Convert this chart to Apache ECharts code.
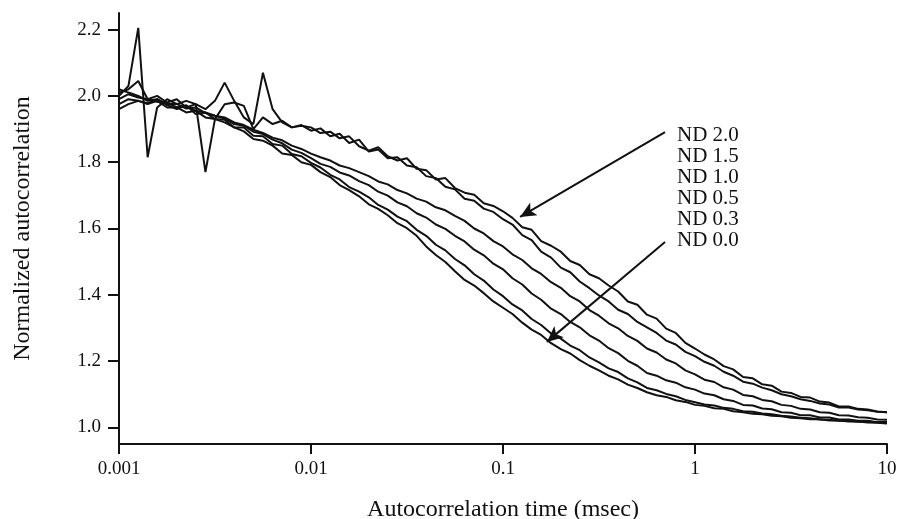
<!DOCTYPE html>
<html>
<head>
<meta charset="utf-8">
<script src="https://cdn.jsdelivr.net/npm/echarts@6/dist/echarts.min.js"></script>
<style>
  html, body { margin: 0; padding: 0; background: #fff; }
  #chart { width: 901px; height: 519px; }
</style>
</head>
<body>
<div id="chart"></div>
<script>
// Autocorrelation time (msec)
const times = [
  0.001, 0.00112, 0.00126, 0.00141, 0.00158, 0.00178, 0.002, 0.00224, 0.00251, 0.00282,
  0.00316, 0.00355, 0.00398, 0.00447, 0.00501, 0.00562, 0.00631, 0.00708, 0.00794, 0.00891,
  0.01, 0.0112, 0.0126, 0.0141, 0.0158, 0.0178, 0.02, 0.0224, 0.0251, 0.0282,
  0.0316, 0.0355, 0.0398, 0.0447, 0.0501, 0.0562, 0.0631, 0.0708, 0.0794, 0.0891,
  0.1, 0.112, 0.126, 0.141, 0.158, 0.178, 0.2, 0.224, 0.251, 0.282,
  0.316, 0.355, 0.398, 0.447, 0.501, 0.562, 0.631, 0.708, 0.794, 0.891,
  1, 1.12, 1.26, 1.41, 1.58, 1.78, 2, 2.24, 2.51, 2.82,
  3.16, 3.55, 3.98, 4.47, 5.01, 5.62, 6.31, 7.08, 7.94, 8.91, 10
];

const nd20 = [
  2.000, 2.030, 2.205, 1.815, 1.965, 1.990, 1.975, 1.985, 1.975, 1.770,
  1.930, 1.975, 1.980, 1.970, 1.900, 1.935, 1.915, 1.925, 1.905, 1.910,
  1.905, 1.888, 1.892, 1.872, 1.878, 1.848, 1.835, 1.845, 1.818, 1.805,
  1.812, 1.780, 1.776, 1.748, 1.752, 1.722, 1.708, 1.702, 1.676, 1.668,
  1.652, 1.632, 1.604, 1.596, 1.562, 1.548, 1.530, 1.502, 1.490, 1.462,
  1.450, 1.428, 1.410, 1.380, 1.370, 1.340, 1.328, 1.298, 1.285, 1.255,
  1.238, 1.220, 1.205, 1.185, 1.175, 1.152, 1.148, 1.130, 1.126, 1.108,
  1.104, 1.092, 1.090, 1.078, 1.075, 1.063, 1.063, 1.056, 1.054, 1.048, 1.046
];
const nd15 = [
  2.010, 2.020, 2.045, 1.990, 2.000, 1.980, 1.990, 1.965, 1.975, 1.960,
  1.985, 2.040, 1.985, 1.935, 1.915, 2.070, 1.960, 1.920, 1.905, 1.912,
  1.895, 1.902, 1.878, 1.886, 1.858, 1.868, 1.832, 1.838, 1.812, 1.815,
  1.790, 1.785, 1.758, 1.752, 1.726, 1.718, 1.690, 1.684, 1.660, 1.650,
  1.628, 1.612, 1.580, 1.565, 1.530, 1.512, 1.482, 1.468, 1.440, 1.420,
  1.398, 1.380, 1.355, 1.342, 1.318, 1.302, 1.285, 1.262, 1.250, 1.228,
  1.215, 1.198, 1.186, 1.168, 1.156, 1.138, 1.132, 1.120, 1.112, 1.100,
  1.094, 1.085, 1.080, 1.072, 1.069, 1.060, 1.060, 1.054, 1.052, 1.047, 1.046
];
const nd10 = [
  2.020, 2.010, 2.000, 1.985, 1.990, 1.975, 1.976, 1.962, 1.965, 1.948,
  1.940, 1.935, 1.920, 1.912, 1.898, 1.888, 1.874, 1.866, 1.850, 1.840,
  1.826, 1.815, 1.805, 1.790, 1.782, 1.770, 1.758, 1.742, 1.733, 1.716,
  1.706, 1.690, 1.681, 1.664, 1.655, 1.638, 1.623, 1.600, 1.585, 1.562,
  1.546, 1.522, 1.505, 1.480, 1.463, 1.438, 1.421, 1.396, 1.380, 1.354,
  1.337, 1.314, 1.299, 1.276, 1.261, 1.238, 1.226, 1.205, 1.193, 1.172,
  1.160, 1.144, 1.137, 1.121, 1.114, 1.098, 1.094, 1.083, 1.079, 1.068,
  1.065, 1.056, 1.054, 1.046, 1.044, 1.037, 1.036, 1.031, 1.029, 1.024, 1.023
];
const nd05 = [
  1.990, 2.005, 1.995, 1.990, 1.982, 1.978, 1.966, 1.970, 1.955, 1.950,
  1.940, 1.932, 1.915, 1.910, 1.892, 1.885, 1.868, 1.857, 1.838, 1.828,
  1.812, 1.795, 1.786, 1.769, 1.760, 1.743, 1.731, 1.711, 1.699, 1.679,
  1.667, 1.646, 1.633, 1.612, 1.599, 1.578, 1.561, 1.536, 1.519, 1.494,
  1.477, 1.450, 1.431, 1.404, 1.385, 1.358, 1.342, 1.318, 1.302, 1.278,
  1.262, 1.239, 1.224, 1.201, 1.186, 1.164, 1.156, 1.142, 1.135, 1.121,
  1.114, 1.102, 1.097, 1.085, 1.080, 1.068, 1.066, 1.057, 1.055, 1.046,
  1.044, 1.037, 1.037, 1.030, 1.030, 1.024, 1.024, 1.020, 1.020, 1.016, 1.016
];
const nd03 = [
  1.960, 1.975, 1.985, 1.978, 1.990, 1.972, 1.960, 1.972, 1.945, 1.950,
  1.930, 1.928, 1.905, 1.905, 1.880, 1.878, 1.855, 1.850, 1.825, 1.818,
  1.798, 1.784, 1.762, 1.748, 1.725, 1.711, 1.694, 1.671, 1.657, 1.636,
  1.622, 1.596, 1.578, 1.551, 1.534, 1.508, 1.489, 1.462, 1.443, 1.416,
  1.396, 1.371, 1.353, 1.327, 1.309, 1.283, 1.268, 1.247, 1.233, 1.211,
  1.196, 1.178, 1.167, 1.148, 1.136, 1.119, 1.112, 1.101, 1.094, 1.083,
  1.076, 1.069, 1.066, 1.059, 1.056, 1.049, 1.047, 1.042, 1.040, 1.035,
  1.033, 1.029, 1.028, 1.024, 1.023, 1.020, 1.020, 1.017, 1.018, 1.015, 1.016
];
const nd00 = [
  1.975, 1.990, 1.985, 1.975, 1.985, 1.965, 1.965, 1.950, 1.955, 1.935,
  1.930, 1.920, 1.905, 1.893, 1.870, 1.865, 1.850, 1.826, 1.822, 1.800,
  1.792, 1.770, 1.755, 1.731, 1.716, 1.697, 1.673, 1.659, 1.640, 1.616,
  1.601, 1.578, 1.546, 1.520, 1.499, 1.471, 1.445, 1.428, 1.405, 1.380,
  1.361, 1.342, 1.316, 1.295, 1.279, 1.254, 1.236, 1.223, 1.203, 1.186,
  1.172, 1.156, 1.145, 1.129, 1.119, 1.106, 1.097, 1.092, 1.082, 1.077,
  1.068, 1.065, 1.058, 1.056, 1.049, 1.046, 1.041, 1.040, 1.035, 1.034,
  1.029, 1.028, 1.025, 1.025, 1.021, 1.021, 1.018, 1.018, 1.015, 1.014, 1.012
];

const seriesNames = ['ND 2.0', 'ND 1.5', 'ND 1.0', 'ND 0.5', 'ND 0.3', 'ND 0.0'];
const seriesValues = [nd20, nd15, nd10, nd05, nd03, nd00];

const xTickLabels = ['0.001', '0.01', '0.1', '1', '10'];
const yTickValues = [1.0, 1.2, 1.4, 1.6, 1.8, 2.0, 2.2];
const yTickLabels = ['1.0', '1.2', '1.4', '1.6', '1.8', '2.0', '2.2'];

// annotation arrows: [from, to] in data coordinates
const arrowFromTo = [
  [[0.698, 1.891], [0.1227, 1.635]],
  [[0.698, 1.559], [0.1693, 1.258]]
];

const INK = '#111';
const FONT = '"Liberation Serif", "Times New Roman", serif';

const chart = echarts.init(document.getElementById('chart'), null, { renderer: 'canvas' });

const series = seriesNames.map((name, k) => ({
  name: name,
  type: 'line',
  data: times.map((t, i) => [t, seriesValues[k][i]]),
  showSymbol: false,
  symbol: 'none',
  smooth: false,
  lineStyle: { color: INK, width: 2 },
  itemStyle: { color: INK },
  silent: true,
  z: 3
}));

series[0].markLine = {
  silent: true,
  symbol: ['none', 'arrow'],
  symbolSize: [11, 16],
  label: { show: false },
  lineStyle: { color: INK, width: 2, type: 'solid' },
  emphasis: { disabled: true },
  data: arrowFromTo.map(p => [{ coord: p[0] }, { coord: p[1] }])
};

chart.setOption({
  animation: false,
  backgroundColor: '#ffffff',
  grid: { left: 119, right: 14, top: 13, bottom: 75, containLabel: false, outerBoundsMode: 'none' },
  xAxis: {
    type: 'log',
    logBase: 10,
    min: 0.001,
    max: 10,
    name: 'Autocorrelation time (msec)',
    nameLocation: 'middle',
    nameGap: 54,
    nameTextStyle: { fontFamily: FONT, fontSize: 24, color: INK },
    axisLine: { show: true, lineStyle: { color: INK, width: 2 } },
    axisTick: { show: true, inside: false, length: 10, lineStyle: { color: INK, width: 2 } },
    minorTick: { show: false },
    splitLine: { show: false },
    minorSplitLine: { show: false },
    axisLabel: {
      margin: 16,
      fontFamily: FONT,
      fontSize: 19,
      color: INK,
      formatter: v => xTickLabels[Math.round(Math.log10(v)) + 3]
    }
  },
  yAxis: {
    type: 'value',
    min: 0.95,
    max: 2.25,
    name: 'Normalized autocorrelation',
    nameLocation: 'middle',
    nameGap: 84,
    nameRotate: 90,
    nameTextStyle: { fontFamily: FONT, fontSize: 24, color: INK },
    axisLine: { show: true, lineStyle: { color: INK, width: 2 } },
    axisTick: {
      show: true, inside: false, length: 11,
      customValues: yTickValues,
      lineStyle: { color: INK, width: 2 }
    },
    splitLine: { show: false },
    axisLabel: {
      margin: 18,
      fontFamily: FONT,
      fontSize: 19,
      color: INK,
      customValues: yTickValues,
      formatter: v => yTickLabels[yTickValues.findIndex(t => Math.abs(t - v) < 1e-6)]
    }
  },
  graphic: [{
    type: 'text',
    left: 677,
    top: 125,
    silent: true,
    style: {
      text: seriesNames.join('\n'),
      font: '21px ' + FONT,
      lineHeight: 21,
      fill: INK
    }
  }],
  series: series
});
</script>
</body>
</html>
